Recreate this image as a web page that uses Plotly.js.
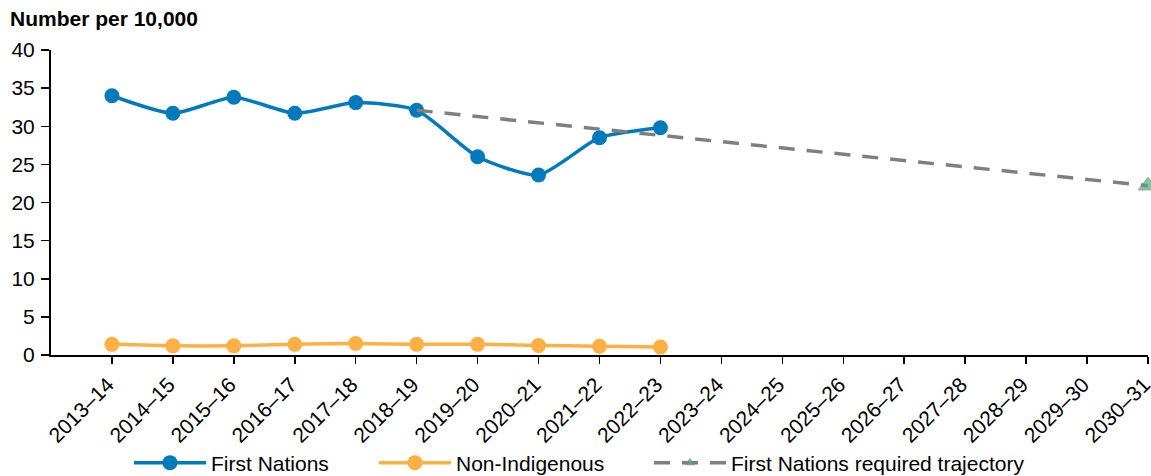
<!DOCTYPE html>
<html>
<head>
<meta charset="utf-8">
<script src="https://cdn.plot.ly/plotly-3.0.1.min.js"></script>
<style>html,body{margin:0;padding:0;background:#fff}#chart{width:1151px;height:476px}</style>
</head>
<body>
<div id="chart"></div>
<script>
const categories = ["2013–14","2014–15","2015–16","2016–17","2017–18","2018–19","2019–20","2020–21","2021–22","2022–23","2023–24","2024–25","2025–26","2026–27","2027–28","2028–29","2029–30","2030–31"];
const dataYears = ["2013–14","2014–15","2015–16","2016–17","2017–18","2018–19","2019–20","2020–21","2021–22","2022–23"];
const firstNations = [34.0, 31.7, 33.8, 31.7, 33.1, 32.1, 26.0, 23.6, 28.5, 29.8];
const nonIndigenous = [1.4, 1.2, 1.2, 1.4, 1.5, 1.4, 1.4, 1.25, 1.15, 1.05];
const trajectoryYears = ["2018–19","2030–31"];
const trajectoryValues = [32.1, 22.2];

const font = "Liberation Sans, Arial, sans-serif";
const FS = 21;

const traces = [
  {
    x: dataYears, y: firstNations, name: "First Nations",
    type: "scatter", mode: "lines+markers", legend: "legend",
    line: {color: "#0079BD", width: 3.5, shape: "spline", smoothing: 0.6},
    marker: {color: "#0079BD", size: 15}
  },
  {
    x: dataYears, y: nonIndigenous, name: "Non-Indigenous",
    type: "scatter", mode: "lines+markers", legend: "legend2",
    line: {color: "#FDB144", width: 3.5, shape: "spline", smoothing: 0.6},
    marker: {color: "#FDB144", size: 15}
  },
  {
    x: trajectoryYears, y: trajectoryValues, name: "First Nations required trajectory",
    type: "scatter", mode: "lines+markers", legend: "legend3",
    line: {color: "#7F7F7F", width: 3.5, dash: "16px,12px"},
    marker: {color: "#4DAF7C", symbol: "triangle-up", size: [0, 17]},
    cliponaxis: false
  }
];

function leg(px) {
  return {
    orientation: "h", xref: "container", yref: "container",
    x: px / 1151, xanchor: "left", y: (476 - 463) / 476, yanchor: "middle",
    font: {family: font, size: FS, color: "#000"},
    itemwidth: 72,
    bgcolor: "rgba(0,0,0,0)", borderwidth: 0
  };
}

const layout = {
  width: 1151, height: 476,
  margin: {l: 51, r: 3, t: 50, b: 121},
  paper_bgcolor: "#fff", plot_bgcolor: "#fff",
  font: {family: font, size: FS, color: "#000"},
  showlegend: true,
  title: {
    text: "<b>Number per 10,000</b>", xref: "container", yref: "container",
    x: 10 / 1151, xanchor: "left", y: (476 - 19) / 476, yanchor: "middle",
    font: {family: font, size: 21, color: "#000"}
  },
  xaxis: {
    type: "category", categoryorder: "array", categoryarray: categories,
    range: [-1, 17], showgrid: false, zeroline: false,
    showline: true, linecolor: "#000", linewidth: 2,
    ticks: "outside", ticklen: 7, tickwidth: 1.5, tickcolor: "#000",
    tickangle: -45, ticklabelshift: -4,
    tickfont: {family: font, size: FS, color: "#000"},
    automargin: false
  },
  yaxis: {
    range: [0, 40], dtick: 5, showgrid: false, zeroline: false,
    showline: true, linecolor: "#000", linewidth: 2,
    ticks: "outside", ticklen: 8, tickwidth: 1.5, tickcolor: "#000",
    ticklabelstandoff: 2,
    tickfont: {family: font, size: FS, color: "#000"},
    automargin: false
  },
  legend: leg(129),
  legend2: leg(374),
  legend3: leg(649)
};

Plotly.newPlot("chart", traces, layout, {displayModeBar: false, staticPlot: true});
</script>
</body>
</html>
